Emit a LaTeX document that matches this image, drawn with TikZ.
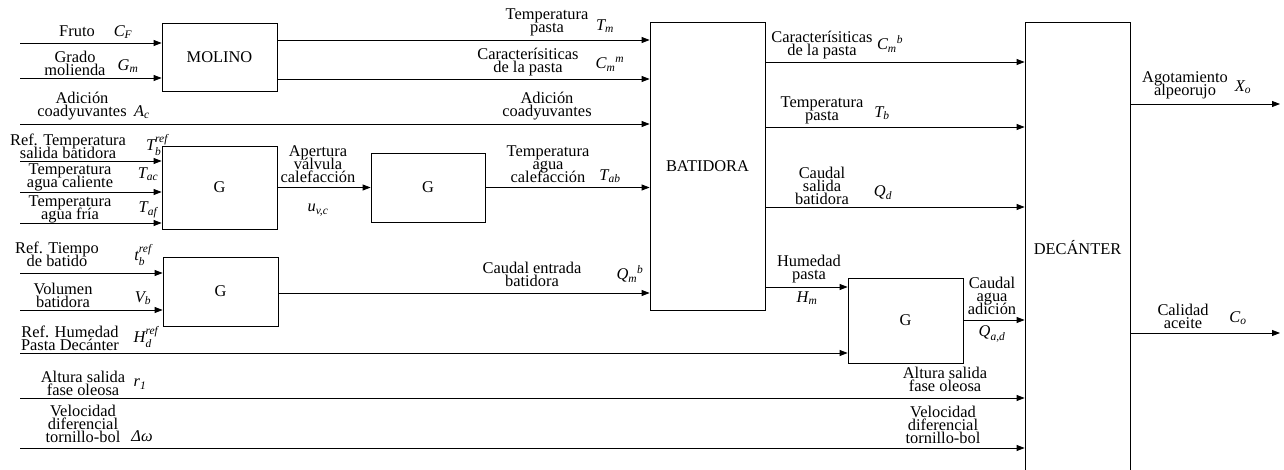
\documentclass[tikz,border=0pt]{standalone}
\usepackage{fontspec}
\setmainfont{Liberation Serif}
\usepackage{amsmath}
\usetikzlibrary{arrows.meta}
\newcommand{\iv}[1]{\textit{#1}}
\newcommand{\tightls}{\lineskiplimit=-30pt\relax}
\begin{document}
\begin{tikzpicture}[x=1pt,y=-1pt,
  box/.style={draw,line width=0.8pt,inner sep=0pt,font=\fontsize{16.4}{13}\selectfont},
  lbl/.style={inner sep=0pt,align=center,font={\fontsize{16.4}{13}\selectfont\tightls}},
  var/.style={inner sep=0pt,font=\fontsize{16.4}{13}\selectfont},
  sig/.style={line width=0.8pt,-{Triangle[length=8pt,width=6pt]}}]
\useasboundingbox (0,0) rectangle (1284,470);
% boxes
\node[box,minimum width=115pt,minimum height=68pt] (mol) at (219.5,57) {MOLINO};
\node[box,minimum width=115pt,minimum height=83pt] (g1) at (219.5,187.5) {G};
\node[box,minimum width=114pt,minimum height=69pt] (g2) at (428,187.5) {G};
\node[box,minimum width=115pt,minimum height=69pt] (g3) at (220.5,291.5) {G};
\node[box,minimum width=115pt,minimum height=288pt] (bat) at (707.5,166) {BATIDORA};
\node[box,minimum width=115pt,minimum height=85pt] (g4) at (905.5,320.5) {G};
\node[box,minimum width=105pt,minimum height=452pt] (dec) at (1077.5,248) {DECÁNTER};
% free ends
\coordinate (iF) at (20,43);
\coordinate (iG) at (20,78);
\coordinate (iA) at (20,124);
\coordinate (iTr) at (20,161);
\coordinate (iTac) at (20,192);
\coordinate (iTaf) at (20,223);
\coordinate (itb) at (20,273);
\coordinate (iVb) at (20,310);
\coordinate (iHd) at (20,353);
\coordinate (ir) at (20,398);
\coordinate (iDw) at (20,448);
\coordinate (oX) at (1280,104);
\coordinate (oC) at (1280,333);
% connectors
\draw[sig] (iF) -- (iF -| mol.west);
\draw[sig] (iG) -- (iG -| mol.west);
\draw[sig] (iA) -- (iA -| bat.west);
\draw[sig] (iTr) -- (iTr -| g1.west);
\draw[sig] (iTac) -- (iTac -| g1.west);
\draw[sig] (iTaf) -- (iTaf -| g1.west);
\draw[sig] (itb) -- (itb -| g3.west);
\draw[sig] (iVb) -- (iVb -| g3.west);
\draw[sig] (iHd) -- (iHd -| g4.west);
\draw[sig] (ir) -- (ir -| dec.west);
\draw[sig] (iDw) -- (iDw -| dec.west);
\draw[sig] (mol.east |- 0,40) -- (bat.west |- 0,40);
\draw[sig] (mol.east |- 0,79) -- (bat.west |- 0,79);
\draw[sig] (g1.east) -- (g2.west);
\draw[sig] (g2.east) -- (g2.east -| bat.west);
\draw[sig] (g3.east |- 0,293) -- (bat.west |- 0,293);
\draw[sig] (bat.east |- 0,62) -- (dec.west |- 0,62);
\draw[sig] (bat.east |- 0,127) -- (dec.west |- 0,127);
\draw[sig] (bat.east |- 0,207) -- (dec.west |- 0,207);
\draw[sig] (bat.east |- 0,287) -- (g4.west |- 0,287);
\draw[sig] (g4.east |- 0,320) -- (dec.west |- 0,320);
\draw[sig] (dec.east |- oX) -- (oX);
\draw[sig] (dec.east |- oC) -- (oC);
% left labels
\node[lbl] (l1) at (77,31) {Fruto};
\node[var] (v1) at (123,32) {$\iv{C}_{\iv{F}}$};
\node[lbl] (l2) at (75,63) {Grado\\molienda};
\node[var] (v2) at (128,66) {$\iv{G}_{\iv{m}}$};
\node[lbl] (l3) at (82,106) {Adición\\coadyuvantes};
\node[var] (v3) at (142,112) {$\iv{A}_{\iv{c}}$};
\node[lbl] (l4) at (68,146) {Ref. Temperatura\\salida batidora};
\node[var] (v4) at (157,145) {$\iv{T}_{\iv{b}}^{\iv{ref}}$};
\node[lbl] (l5) at (70,177) {Temperatura\\agua caliente};
\node[var] (v5) at (148,174) {$\iv{T}_{\iv{ac}}$};
\node[lbl] (l6) at (70,209) {Temperatura\\agua fría};
\node[var] (v6) at (148,210) {$\iv{T}_{\iv{af}}$};
\node[lbl] (l7) at (57,254) {Ref. Tiempo\\de batido};
\node[var] (v7) at (143,255) {$\iv{t}_{\iv{b}}^{\iv{ref}}$};
\node[lbl] (l8) at (63,295) {Volumen\\batidora};
\node[var] (v8) at (143,298) {$\iv{V}_{\iv{b}}$};
\node[lbl] (l9) at (70,338) {Ref. Humedad\\Pasta Decánter};
\node[var] (v9) at (146,337) {$\iv{H}_{\iv{d}}^{\iv{ref}}$};
\node[lbl] (l10) at (83,383) {Altura salida\\fase oleosa};
\node[var] (v10) at (140,384) {$\iv{r}_{\iv{1}}$};
\node[lbl] (l11) at (83,424) {Velocidad\\diferencial\\tornillo-bol};
\node[var] (v11) at (142,436) {\textit{Δω}};
% middle labels
\node[lbl] (m1) at (547,22) {Temperatura\\pasta};
\node[var] (w1) at (605,26) {$\iv{T}_{\iv{m}}$};
\node[lbl] (m2) at (528,62) {Caracterísiticas\\de la pasta};
\node[var] (w2) at (610,64) {${\iv{C}_{\iv{m}}}^{\iv{m}}$};
\node[lbl] (m3) at (547,106) {Adición\\coadyuvantes};
\node[lbl] (m4) at (318,164) {Apertura\\válvula\\calefacción};
\node[var] (w4) at (318,210) {$\iv{u}_{\iv{v,c}}$};
\node[lbl] (m5) at (548,164) {Temperatura\\agua\\calefacción};
\node[var] (w5) at (610,176) {$\iv{T}_{\iv{ab}}$};
\node[lbl] (m6) at (532,274) {Caudal entrada\\batidora};
\node[var] (w6) at (630,274) {${\iv{Q}_{\iv{m}}}^{\iv{b}}$};
% right labels
\node[lbl] (r1) at (822,45) {Caracterísiticas\\de la pasta};
\node[var] (s1) at (890,44) {${\iv{C}_{\iv{m}}}^{\iv{b}}$};
\node[lbl] (r2) at (822,110) {Temperatura\\pasta};
\node[var] (s2) at (882,113) {$\iv{T}_{\iv{b}}$};
\node[lbl] (r3) at (822,186) {Caudal\\salida\\batidora};
\node[var] (s3) at (883,193) {$\iv{Q}_{\iv{d}}$};
\node[lbl] (r4) at (809,269) {Humedad\\pasta};
\node[var] (s4) at (807,298) {$\iv{H}_{\iv{m}}$};
\node[lbl] (r5) at (992,296) {Caudal\\agua\\adición};
\node[var] (s5) at (992,334) {$\iv{Q}_{\iv{a,d}}$};
\node[lbl] (r6) at (945,379) {Altura salida\\fase oleosa};
\node[lbl] (r7) at (943,425) {Velocidad\\diferencial\\tornillo-bol};
\node[lbl] (r8) at (1185,85) {Agotamiento\\alpeorujo};
\node[var] (s8) at (1243,87) {$\iv{X}_{\iv{o}}$};
\node[lbl] (r9) at (1183,316) {Calidad\\aceite};
\node[var] (s9) at (1238,318) {$\iv{C}_{\iv{o}}$};
\end{tikzpicture}
\end{document}
